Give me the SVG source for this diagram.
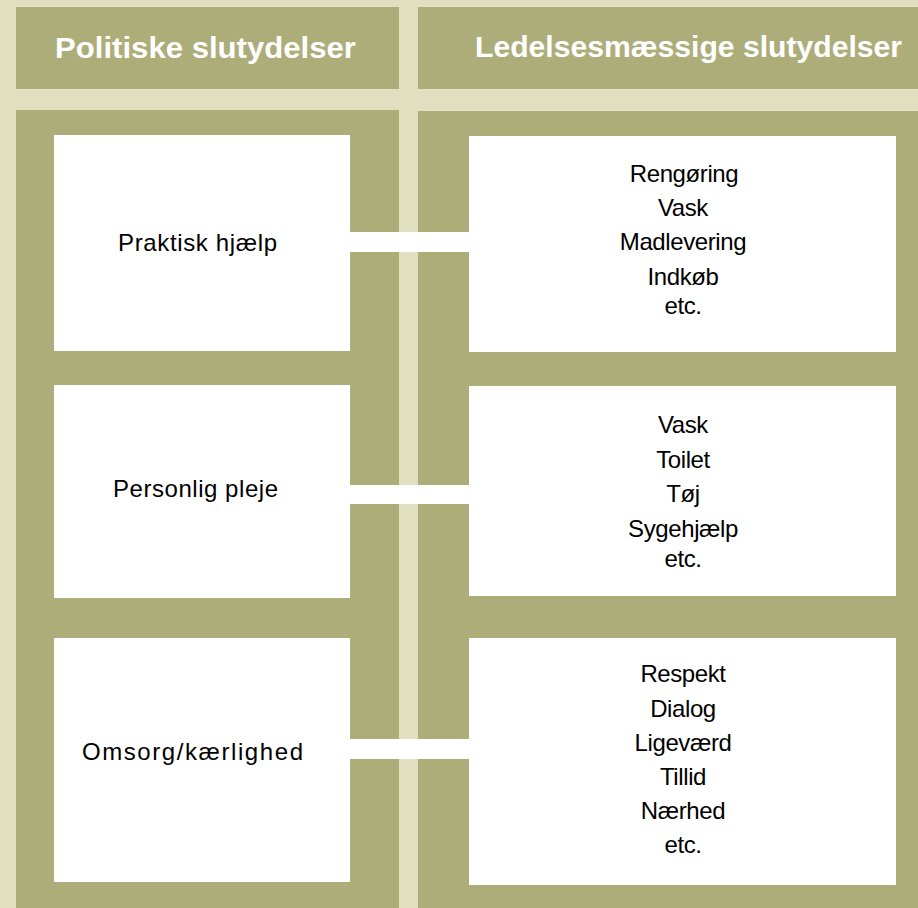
<svg xmlns="http://www.w3.org/2000/svg" width="918" height="908" viewBox="0 0 918 908">
<style>
.olive{fill:#adad7a}
.box{fill:#ffffff}
.hdr{font-family:"Liberation Sans",Arial,sans-serif;font-weight:bold;font-size:30px;fill:#ffffff}
.t{font-family:"Liberation Sans",Arial,sans-serif;font-size:24px;fill:#000000;text-anchor:middle;letter-spacing:-0.4px}
.l{font-family:"Liberation Sans",Arial,sans-serif;font-size:24px;fill:#000000}
</style>
<rect x="0" y="0" width="918" height="908" fill="#e0dfc0"/>
<g id="header-left">
<rect class="olive" x="16" y="7" width="383" height="82"/>
<text class="hdr" x="55" y="58" textLength="301" lengthAdjust="spacingAndGlyphs">Politiske slutydelser</text>
</g>
<g id="header-right">
<rect class="olive" x="418" y="7" width="500" height="82"/>
<text class="hdr" x="475" y="57" textLength="427" lengthAdjust="spacingAndGlyphs">Ledelsesmæssige slutydelser</text>
</g>
<g id="panel-left"><rect class="olive" x="16" y="110" width="383" height="798"/></g>
<g id="panel-right"><rect class="olive" x="418" y="111" width="500" height="797"/></g>
<g id="connectors">
<rect class="box" x="350" y="232" width="119" height="20"/>
<rect class="box" x="350" y="485" width="119" height="19"/>
<rect class="box" x="350" y="739" width="119" height="20"/>
</g>
<g id="node-praktisk">
<rect class="box" x="54" y="135" width="296" height="216"/>
<text class="l" x="118" y="251" textLength="159" lengthAdjust="spacing">Praktisk hjælp</text>
</g>
<g id="node-personlig">
<rect class="box" x="54" y="385" width="296" height="213"/>
<text class="l" x="113" y="497" textLength="165" lengthAdjust="spacing">Personlig pleje</text>
</g>
<g id="node-omsorg">
<rect class="box" x="54" y="638" width="296" height="244"/>
<text class="l" x="82" y="760" textLength="221" lengthAdjust="spacing">Omsorg/kærlighed</text>
</g>
<g id="node-praktisk-detail">
<rect class="box" x="469" y="136" width="427" height="216"/>
<text class="t" x="684" y="182">Rengøring</text>
<text class="t" x="683" y="216">Vask</text>
<text class="t" x="683" y="250">Madlevering</text>
<text class="t" x="683" y="285">Indkøb</text>
<text class="t" x="683" y="314">etc.</text>
</g>
<g id="node-personlig-detail">
<rect class="box" x="469" y="386" width="427" height="210"/>
<text class="t" x="683" y="433">Vask</text>
<text class="t" x="683" y="468">Toilet</text>
<text class="t" x="683" y="502">Tøj</text>
<text class="t" x="683" y="537">Sygehjælp</text>
<text class="t" x="683" y="567">etc.</text>
</g>
<g id="node-omsorg-detail">
<rect class="box" x="469" y="638" width="427" height="247"/>
<text class="t" x="683" y="682">Respekt</text>
<text class="t" x="683" y="717">Dialog</text>
<text class="t" x="683" y="751">Ligeværd</text>
<text class="t" x="683" y="785">Tillid</text>
<text class="t" x="683" y="819">Nærhed</text>
<text class="t" x="683" y="853">etc.</text>
</g>
</svg>
